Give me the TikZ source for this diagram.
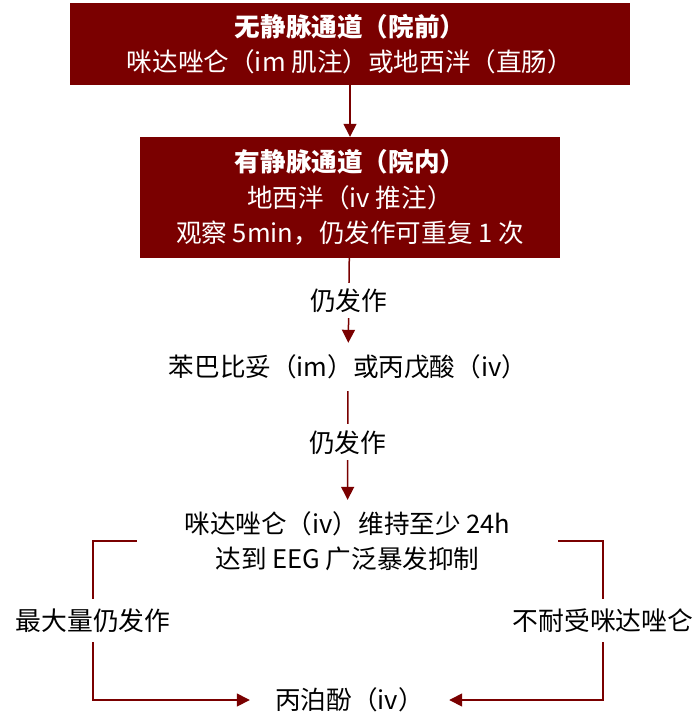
\documentclass[tikz,border=0pt]{standalone}
\usepackage{fontspec}
\setmainfont{Noto Sans CJK SC}
\usetikzlibrary{arrows.meta}
\definecolor{maroon}{HTML}{7A0000}
\tikzset{
  redbox/.style={fill=maroon, draw=none, text=white, align=center, font=\fontsize{25.6}{35.5}\selectfont, inner sep=0pt},
  plain/.style={align=center, font=\fontsize{25.6}{35}\selectfont, inner sep=0pt},
  lbl/.style={fill=white, font=\fontsize{25.8}{28}\selectfont, inner xsep=3pt, inner ysep=6pt, text=black},
  arr/.style={draw=maroon, line width=1.5pt, -{Triangle[length=13pt,width=13pt]}}
}
\begin{document}
\begin{tikzpicture}[x=1pt, y=-1pt]
\useasboundingbox (0,0) rectangle (700,720);
\node[redbox, minimum width=560pt, minimum height=82pt] (b1) at (350,44)
  {\textbf{无静脉通道（院前）}\\咪达唑仑（im 肌注）或地西泮（直肠）};
\node[redbox, minimum width=420pt, minimum height=121pt] (b2) at (350,197.5)
  {\textbf{有静脉通道（院内）}\\地西泮（iv 推注）\\观察 5min，仍发作可重复 1 次};
\node[plain, minimum width=360pt, minimum height=48pt] (n3) at (348,367)
  {苯巴比妥（im）或丙戊酸（iv）};
\node[plain, minimum width=421pt, minimum height=82pt] (n4) at (347.5,541)
  {咪达唑仑（iv）维持至少 24h\\达到 EEG 广泛暴发抑制};
\node[plain, minimum width=199pt, minimum height=40pt] (n5) at (349.5,700)
  {丙泊酚（iv）};
\coordinate (L) at (93,700);
\coordinate (R) at (603,700);
\draw[arr] (b1) -- (b2);
\draw[arr] (b2) -- node[lbl, pos=0.5]{仍发作} (n3);
\draw[arr] (n3) -- node[lbl, pos=0.47]{仍发作} (n4);
\draw[arr] (n4.west) -| node[lbl, pos=0.75, inner ysep=10pt]{最大量仍发作} (L) -- (n5.west);
\draw[arr] (n4.east) -| node[lbl, pos=0.75, inner ysep=10pt]{不耐受咪达唑仑} (R) -- (n5.east);
\end{tikzpicture}
\end{document}
